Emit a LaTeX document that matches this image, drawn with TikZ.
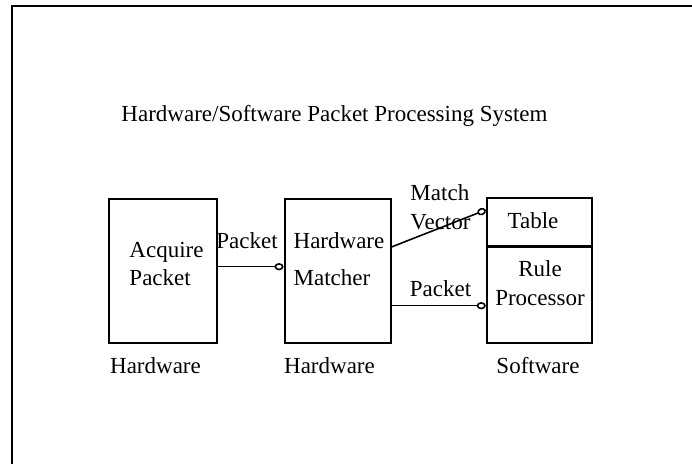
\documentclass[tikz,border=0pt]{standalone}
\usepackage{fontspec}
\setmainfont{Liberation Serif}
\usetikzlibrary{arrows.meta,positioning}

\tikzset{
	unit/.style={draw,line width=1pt,inner sep=0pt,minimum width=54pt,minimum height=72pt},
	txt/.style={inner sep=0pt},
	flow/.style={line width=0.8pt,-{Circle[open,length=4.5pt,width=3.6pt,line width=0.8pt]}}
}

\begin{document}
\begin{tikzpicture}[x=0.5pt,y=-0.5pt,font=\fontsize{11.5}{14.5}\selectfont]
		\useasboundingbox (0,0) rectangle (692,464);
		\draw[line width=1pt] (12,464) -- (12,6) -- (692,6);

		\node[txt] (title) at (334.5,116) {Hardware/Software Packet Processing System};

		\node[unit] (acq) at (163,271) {};
		\node[unit,minimum width=53pt] (hwm) at (337.5,271) {};
		\node[unit,minimum width=52.75pt,minimum height=24pt] (table) at (539.5,222.5) {};
		\node[unit,minimum width=52.75pt,minimum height=48pt] (rule) at (539.5,295) {};

		\node[txt,align=left] (acqtxt) at (166.5,264) {Acquire\\[-0.5pt]Packet};
		\node[txt,align=left] (hwmtxt) at (339,259.5) {Hardware\\[4.1pt]Matcher};
		\node[txt] (tabletxt) at (533,221) {Table};
		\node[txt,align=center] (ruletxt) at (540,283.5) {Rule\\Processor};

		\node[txt] (hw1) at (155.5,366) {Hardware};
		\node[txt] (hw2) at (329.5,366) {Hardware};
		\node[txt] (sw) at (538,366) {Software};

		\draw[flow] ([yshift=2.15pt]acq.east) -- ([yshift=2.15pt]hwm.west);
		\node[txt] (pkt1) at (247,240.7) {Packet};

		\draw[flow] ([yshift=12pt]hwm.east) -- ([yshift=6.25pt]table.west);
		\node[txt,align=left] (mv) at (440.5,207) {Match\\Vector};

		\draw[flow] ([yshift=-17.35pt]hwm.east) -- ([yshift=-17.35pt]hwm.east -| rule.west);
		\node[txt] (pkt2) at (440.5,289) {Packet};
	\end{tikzpicture}
\end{document}
